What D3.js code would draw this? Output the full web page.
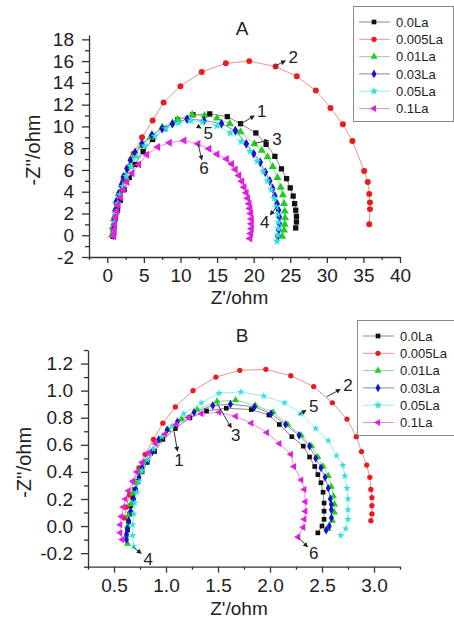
<!DOCTYPE html>
<html>
<head>
<meta charset="utf-8">
<script src="https://cdn.jsdelivr.net/npm/d3@7"></script>
<style>
  body { margin: 0; background: #fff; }
  text { font-family: Arial, 'Liberation Sans', sans-serif; fill: #222; }
</style>
</head>
<body>
<svg id="fig" width="454" height="618"></svg>
<script>
var names = ['0.0La', '0.005La', '0.01La', '0.03La', '0.05La', '0.1La'];

var xTicksA = [0, 5, 10, 15, 20, 25, 30, 35, 40];
var yTicksA = [-2, 0, 2, 4, 6, 8, 10, 12, 14, 16, 18];
var xTicksB = [0.5, 1.0, 1.5, 2.0, 2.5, 3.0];
var yTicksB = [-0.2, 0.0, 0.2, 0.4, 0.6, 0.8, 1.0, 1.2];

// panel A, Z' and -Z'' per sample
var a0x = [25.75, 25.85, 25.85, 25.75, 25.6, 25.4, 25.0, 24.5, 23.8, 22.9, 21.7, 20.3, 18.2, 16.4, 14.0, 11.7, 9.6, 7.8, 6.2, 4.9, 3.8, 3.0, 2.3, 1.8, 1.4, 1.1, 0.9, 0.8, 0.8];
var a0y = [0.67, 1.22, 1.74, 2.3, 2.9, 3.6, 4.35, 5.2, 6.1, 7.25, 8.35, 9.4, 10.25, 10.9, 11.15, 11.07, 10.6, 9.8, 8.8, 7.7, 6.5, 5.3, 4.2, 3.2, 2.3, 1.5, 0.8, 0.2, -0.1];
var a1x = [35.8, 35.9, 35.9, 35.8, 35.6, 35.1, 33.5, 32.2, 30.5, 28.5, 25.9, 23.0, 19.4, 16.2, 12.9, 10.0, 7.7, 6.2, 4.75, 3.6, 2.8, 2.2, 1.7, 1.35, 1.1, 0.95, 0.85];
var a1y = [1.0, 2.4, 3.0, 3.8, 4.9, 5.9, 8.65, 10.2, 11.7, 13.3, 14.6, 15.5, 16.0, 15.8, 15.0, 13.7, 12.2, 10.55, 9.0, 7.5, 6.2, 5.0, 3.9, 2.8, 1.8, 0.9, 0.1];
var a2x = [23.9, 24.15, 24.25, 24.3, 24.25, 24.15, 24.0, 23.7, 23.25, 22.6, 21.9, 21.1, 20.1, 18.2, 16.75, 15.0, 13.3, 11.6, 9.6, 7.5, 5.9, 4.7, 3.8, 3.0, 2.5, 2.0, 1.55, 1.3, 1.1, 0.9, 0.75, 0.65];
var a2y = [-0.1, 0.46, 1.0, 1.6, 2.2, 2.9, 3.7, 4.4, 5.3, 6.3, 7.2, 7.8, 8.4, 9.5, 10.25, 10.75, 11.0, 11.07, 10.65, 9.9, 9.0, 8.2, 7.3, 6.3, 5.35, 4.6, 3.8, 3.05, 2.3, 1.5, 0.76, 0.0];
var a3x = [23.3, 23.4, 23.5, 23.5, 23.4, 23.2, 22.9, 22.6, 22.2, 21.6, 20.9, 20.0, 19.0, 17.5, 15.6, 13.2, 10.9, 8.9, 7.5, 6.1, 4.75, 3.8, 3.15, 2.7, 2.2, 1.9, 1.55, 1.2, 1.1, 0.96, 0.9, 0.85];
var a3y = [-0.1, 0.46, 1.07, 1.68, 2.3, 2.9, 3.6, 4.3, 5.0, 5.8, 6.7, 7.5, 8.4, 9.6, 10.25, 10.55, 10.67, 10.25, 9.8, 9.2, 8.4, 7.6, 6.9, 6.1, 5.35, 4.6, 3.8, 3.05, 2.3, 1.4, 0.6, 0.0];
var a4x = [23.2, 23.3, 23.4, 23.4, 23.3, 23.1, 22.8, 22.4, 21.9, 21.3, 20.5, 19.5, 18.3, 16.8, 15.0, 13.0, 11.4, 9.7, 8.0, 6.5, 5.1, 4.0, 3.2, 2.6, 2.1, 1.7, 1.4, 1.15, 0.95, 0.85];
var a4y = [-0.55, 0.0, 0.6, 1.2, 1.9, 2.6, 3.4, 4.2, 5.0, 5.9, 6.8, 7.7, 8.6, 9.4, 10.05, 10.4, 10.5, 10.3, 9.8, 9.1, 8.2, 7.2, 6.3, 5.4, 4.5, 3.7, 2.9, 2.1, 1.2, 0.4];
var a5x = [19.5, 19.6, 19.7, 19.7, 19.7, 19.6, 19.5, 19.4, 19.2, 19.0, 18.7, 18.4, 18.0, 17.5, 17.0, 16.3, 15.0, 13.9, 12.4, 10.5, 8.5, 6.9, 5.4, 4.3, 3.4, 2.7, 2.2, 1.8, 1.5, 1.3, 1.1, 1.0, 0.95, 0.9, 0.9];
var a5y = [-0.3, 0.15, 0.6, 1.05, 1.5, 2.0, 2.45, 2.9, 3.4, 3.9, 4.4, 4.95, 5.5, 6.05, 6.55, 7.0, 7.45, 7.95, 8.4, 8.7, 8.5, 8.1, 7.4, 6.5, 5.7, 4.9, 4.2, 3.5, 2.8, 2.2, 1.6, 1.0, 0.5, 0.1, -0.1];

// panel B
var b0x = [2.46, 2.50, 2.52, 2.52, 2.52, 2.51, 2.49, 2.46, 2.43, 2.38, 2.32, 2.21, 2.09, 1.99, 1.82, 1.58, 1.39, 1.23, 1.09, 0.97, 0.89, 0.82, 0.77, 0.73, 0.70, 0.68, 0.66, 0.65, 0.64, 0.63];
var b0y = [-0.05, 0.0, 0.05, 0.11, 0.17, 0.25, 0.32, 0.38, 0.44, 0.51, 0.59, 0.66, 0.75, 0.82, 0.86, 0.87, 0.85, 0.80, 0.72, 0.64, 0.55, 0.47, 0.40, 0.33, 0.27, 0.21, 0.15, 0.09, 0.03, -0.03];
var b1x = [2.97, 2.98, 2.98, 2.98, 2.97, 2.96, 2.93, 2.88, 2.83, 2.74, 2.60, 2.42, 2.20, 1.96, 1.71, 1.48, 1.26, 1.09, 0.97, 0.88, 0.80, 0.74, 0.69, 0.65, 0.62, 0.60];
var b1y = [0.04, 0.09, 0.15, 0.21, 0.27, 0.36, 0.45, 0.55, 0.66, 0.79, 0.91, 1.03, 1.11, 1.157, 1.15, 1.10, 1.0, 0.88, 0.76, 0.64, 0.53, 0.43, 0.33, 0.23, 0.14, 0.06];
var b2x = [2.56, 2.60, 2.62, 2.62, 2.61, 2.59, 2.56, 2.51, 2.46, 2.40, 2.30, 2.17, 2.03, 1.86, 1.67, 1.49, 1.30, 1.15, 1.02, 0.93, 0.86, 0.80, 0.75, 0.71, 0.68, 0.66, 0.64, 0.63, 0.62, 0.63];
var b2y = [-0.02, 0.04, 0.10, 0.16, 0.22, 0.29, 0.37, 0.44, 0.51, 0.59, 0.67, 0.75, 0.84, 0.89, 0.93, 0.92, 0.86, 0.79, 0.71, 0.63, 0.55, 0.47, 0.40, 0.32, 0.24, 0.16, 0.08, 0.0, -0.07, -0.13];
var b3x = [2.54, 2.57, 2.59, 2.59, 2.59, 2.58, 2.56, 2.53, 2.49, 2.44, 2.38, 2.28, 2.15, 2.01, 1.85, 1.62, 1.45, 1.27, 1.11, 1.01, 0.93, 0.87, 0.82, 0.77, 0.74, 0.71, 0.69, 0.66, 0.64, 0.63, 0.62, 0.62];
var b3y = [-0.03, 0.0, 0.06, 0.12, 0.16, 0.2, 0.28, 0.36, 0.43, 0.5, 0.59, 0.67, 0.75, 0.83, 0.88, 0.90, 0.89, 0.84, 0.77, 0.71, 0.64, 0.55, 0.48, 0.43, 0.36, 0.27, 0.2, 0.11, 0.04, -0.02, -0.06, -0.10];
var b4x = [2.68, 2.73, 2.75, 2.75, 2.75, 2.74, 2.72, 2.70, 2.64, 2.56, 2.44, 2.30, 2.14, 1.94, 1.72, 1.51, 1.34, 1.17, 1.06, 0.96, 0.88, 0.82, 0.77, 0.74, 0.72, 0.70, 0.69, 0.68, 0.68, 0.69];
var b4y = [-0.07, -0.02, 0.05, 0.12, 0.2, 0.28, 0.37, 0.45, 0.52, 0.63, 0.72, 0.83, 0.91, 0.96, 0.99, 0.98, 0.91, 0.83, 0.74, 0.66, 0.57, 0.49, 0.41, 0.33, 0.25, 0.17, 0.09, 0.01, -0.07, -0.15];
var b5x = [2.27, 2.32, 2.33, 2.34, 2.34, 2.33, 2.30, 2.23, 2.20, 2.09, 1.97, 1.82, 1.67, 1.51, 1.34, 1.22, 1.10, 0.99, 0.90, 0.83, 0.77, 0.72, 0.68, 0.64, 0.61, 0.59, 0.57, 0.56, 0.56, 0.58];
var b5y = [-0.08, -0.01, 0.05, 0.11, 0.18, 0.27, 0.34, 0.44, 0.53, 0.61, 0.69, 0.76, 0.81, 0.84, 0.83, 0.80, 0.75, 0.68, 0.61, 0.54, 0.47, 0.40, 0.33, 0.26, 0.20, 0.14, 0.07, 0.01, -0.05, -0.10];

// curve numbers: label, curve point, label point (data units)
var notesA = [
  ['1', [18.2, 10.2], [21.1, 11.4]],
  ['2', [22.8, 15.5], [25.4, 16.4]],
  ['3', [20.2, 8.45], [23.2, 8.9]],
  ['4', [23.15, 2.6], [21.5, 1.24]],
  ['5', [12.4, 10.0], [13.8, 9.4]],
  ['6', [12.4, 8.4], [13.2, 6.15]]
];
var notesB = [
  ['1', [1.077, 0.70], [1.125, 0.49]],
  ['2', [2.545, 0.955], [2.75, 1.04]],
  ['3', [1.49, 0.907], [1.67, 0.67]],
  ['4', [0.686, -0.157], [0.83, -0.24]],
  ['5', [2.27, 0.82], [2.42, 0.887]],
  ['6', [2.27, -0.083], [2.42, -0.2]]
];

var colors = ['#111111', '#e81c1c', '#22cc22', '#1414c8', '#2ee0e0', '#e020e0'];
var lineColors = ['#8a8a8a', '#f29090', '#8ce08c', '#8080d8', '#96eeee', '#ee8cee'];
var shapes = [d3.symbolSquare, d3.symbolCircle, d3.symbolTriangle, d3.symbolDiamond, d3.symbolStar, d3.symbolTriangle];
var turns = [0, 0, 0, 0, 0, -90];

function zip(xs, ys) {
  return xs.map(function (v, i) { return [v, ys[i]]; });
}

var svg = d3.select('#fig');

svg.append('defs').append('marker')
    .attr('id', 'head')
    .attr('viewBox', '0 0 6 6')
    .attr('refX', 5).attr('refY', 3)
    .attr('markerWidth', 5).attr('markerHeight', 5)
    .attr('orient', 'auto')
  .append('path')
    .attr('d', 'M0,0L6,3L0,6Z')
    .attr('fill', '#222');

function panel(o) {
  var g = svg.append('g');
  var x = d3.scaleLinear().domain(o.xDomain).range([o.left, o.right]);
  var y = d3.scaleLinear().domain(o.yDomain).range([o.bottom, o.top]);

  var line = d3.line()
      .x(function (d) { return x(d[0]); })
      .y(function (d) { return y(d[1]); });

  o.data.forEach(function (pts, k) {
    g.append('path')
        .datum(pts)
        .attr('d', line)
        .attr('fill', 'none')
        .attr('stroke', lineColors[k])
        .attr('stroke-width', 1);
  });
  o.data.forEach(function (pts, k) {
    g.selectAll('.m' + k)
        .data(pts)
      .enter().append('path')
        .attr('class', 'm' + k)
        .attr('d', d3.symbol().type(shapes[k]).size(k === 4 ? o.msize * 0.8 : o.msize))
        .attr('transform', function (d) { return 'translate(' + x(d[0]) + ',' + y(d[1]) + ') rotate(' + turns[k] + ')'; })
        .attr('fill', colors[k]);
  });

  // axes
  var ax = g.append('g').attr('transform', 'translate(0,' + o.bottom + ')')
      .call(d3.axisBottom(x).tickValues(o.xTicks).tickSize(6).tickSizeOuter(0).tickPadding(o.xPad)
        .tickFormat(d3.format(o.xFmt)));
  g.append('g').attr('transform', 'translate(0,' + o.bottom + ')')
      .call(d3.axisBottom(x).tickValues(o.xMinor).tickSize(3).tickFormat(''))
      .select('.domain').remove();
  var ay = g.append('g').attr('transform', 'translate(' + o.left + ',0)')
      .call(d3.axisLeft(y).tickValues(o.yTicks).tickSize(7).tickSizeOuter(0).tickPadding(8)
        .tickFormat(d3.format(o.yFmt)));
  g.append('g').attr('transform', 'translate(' + o.left + ',0)')
      .call(d3.axisLeft(y).tickValues(o.yMinor).tickSize(4).tickFormat(''))
      .select('.domain').remove();

  g.selectAll('.domain, .tick line').attr('stroke', '#333').attr('stroke-width', 1.3);
  g.selectAll('.tick text').style('font-size', '19px').attr('fill', '#222')
      .style('font-family', 'Arial, "Liberation Sans", sans-serif');
  ay.selectAll('.tick text').text(function (d) { return d3.format(o.yFmt)(d).replace('\u2212', '-'); });
  ax.selectAll('.tick text').text(function (d) { return d3.format(o.xFmt)(d).replace('\u2212', '-'); });

  g.append('text')
      .attr('x', (o.left + o.right) / 2 - 5)
      .attr('y', o.xTitleY)
      .attr('text-anchor', 'middle')
      .style('font-size', '19px')
      .text("Z'/ohm");
  g.append('text')
      .attr('transform', 'translate(' + o.yTitleX + ',' + ((o.top + o.bottom) / 2 + 4) + ') rotate(-90)')
      .attr('text-anchor', 'middle')
      .style('font-size', '20px')
      .text("-Z''/ohm");
  g.append('text')
      .attr('x', 242)
      .attr('y', o.titleY)
      .attr('text-anchor', 'middle')
      .style('font-size', '19px')
      .text(o.title);

  // curve numbers
  o.notes.forEach(function (n) {
    var x0 = x(n[1][0]), y0 = y(n[1][1]), x1 = x(n[2][0]), y1 = y(n[2][1]);
    var dx = x1 - x0, dy = y1 - y0, len = Math.sqrt(dx * dx + dy * dy);
    var stop = Math.max(len - 9, 2);
    g.append('line')
        .attr('x1', x0).attr('y1', y0)
        .attr('x2', x0 + dx * stop / len).attr('y2', y0 + dy * stop / len)
        .attr('stroke', '#333').attr('stroke-width', 1)
        .attr('marker-end', 'url(#head)');
    g.append('text')
        .attr('x', x1).attr('y', y1)
        .attr('dy', '0.36em')
        .attr('text-anchor', 'middle')
        .style('font-size', '17px')
        .text(n[0]);
  });

  // legend
  var lg = g.append('g').attr('transform', 'translate(' + o.legend[0] + ',' + o.legend[1] + ')');
  lg.append('rect')
      .attr('x', 0.5).attr('y', 0.5)
      .attr('width', o.legend[2]).attr('height', 115)
      .attr('fill', '#fff').attr('stroke', '#888').attr('stroke-width', 1);
  names.forEach(function (name, k) {
    var yy = 16 + k * 17.3;
    lg.append('line')
        .attr('x1', 6).attr('x2', 37).attr('y1', yy).attr('y2', yy)
        .attr('stroke', lineColors[k]).attr('stroke-width', 1);
    lg.append('path')
        .attr('d', d3.symbol().type(shapes[k]).size(22))
        .attr('transform', 'translate(21,' + yy + ') rotate(' + turns[k] + ')')
        .attr('fill', colors[k]);
    lg.append('text')
        .attr('x', 43).attr('y', yy).attr('dy', '0.36em')
        .style('font-size', '13px')
        .text(name);
  });
}

panel({
  xDomain: [-2.5, 40], yDomain: [-2, 18.4],
  left: 89, right: 400, top: 35, bottom: 257,
  xTicks: xTicksA, yTicks: yTicksA,
  xMinor: d3.range(-2.5, 40, 5), yMinor: d3.range(-1, 18.4, 2),
  xFmt: 'd', yFmt: 'd', xPad: 6,
  xTitleY: 304, yTitleX: 40, titleY: 35, title: 'A',
  msize: 28,
  data: [zip(a0x, a0y), zip(a1x, a1y), zip(a2x, a2y), zip(a3x, a3y), zip(a4x, a4y), zip(a5x, a5y)],
  notes: notesA,
  legend: [353, 6, 100]
});

panel({
  xDomain: [0.25, 3.25], yDomain: [-0.3, 1.3],
  left: 88, right: 400, top: 350, bottom: 566.7,
  xTicks: xTicksB, yTicks: yTicksB,
  xMinor: d3.range(0.25, 3.3, 0.5), yMinor: d3.range(-0.3, 1.35, 0.2),
  xFmt: '.1f', yFmt: '.1f', xPad: 6,
  xTitleY: 615, yTitleX: 31, titleY: 342, title: 'B',
  msize: 22,
  data: [zip(b0x, b0y), zip(b1x, b1y), zip(b2x, b2y), zip(b3x, b3y), zip(b4x, b4y), zip(b5x, b5y)],
  notes: notesB,
  legend: [357, 320, 100]
});
</script>
</body>
</html>
